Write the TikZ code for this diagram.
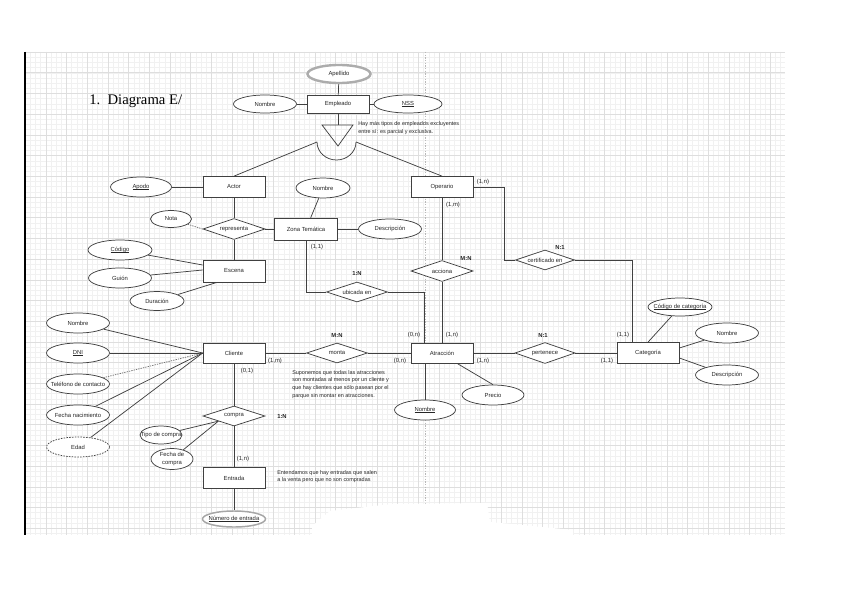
\documentclass[tikz,border=0pt]{standalone}
\usepackage{fontspec}
\setmainfont{Liberation Serif}
\newfontfamily\hv{Liberation Sans}
\usetikzlibrary{shapes.geometric,calc}
\newcommand\ulx[1]{\setbox0=\hbox{#1}\leavevmode\rlap{\vrule width\wd0 height -0.55pt depth 0.85pt}\box0}
\begin{document}
\begin{tikzpicture}[x=0.75pt,y=-0.75pt,
  every node/.style={font=\hv\fontsize{4.4}{5.4}\selectfont, text=black!85},
  ln/.style={draw=black!75, line width=0.55pt},
  ent/.style={rectangle, draw=black!75, line width=0.55pt, fill=white, minimum width=46.5pt, minimum height=15.75pt, inner sep=0pt},
  rel/.style={diamond, aspect=3, draw=black!75, line width=0.55pt, fill=white, minimum width=46.5pt, minimum height=15.75pt, inner sep=0pt},
  attr/.style={ellipse, draw=black!75, line width=0.55pt, fill=white, minimum width=47.25pt, minimum height=15pt, inner sep=0pt},
  card/.style={inner sep=0pt},
  bcard/.style={inner sep=0pt, font=\hv\bfseries\fontsize{4.4}{5.4}\selectfont},
  note/.style={align=left, anchor=north west, inner sep=0pt, font=\hv\fontsize{4.1}{5.8}\selectfont},
  gminor/.style={draw=gray!11, line width=0.2pt},
  gmajor/.style={draw=gray!26, line width=0.3pt},
]
\useasboundingbox (0,0) rectangle (848,599);
\fill[white] (0,0) rectangle (848,599);
% graph paper
\foreach \i in {0,...,146} {\draw[gminor] ({25+\i*5.175},52) -- ({25+\i*5.175},535);}
\foreach \j in {0,...,93} {\draw[gminor] (25,{52+\j*5.175}) -- (785,{52+\j*5.175});}
\foreach \i in {0,...,36} {\draw[gmajor] ({25+\i*20.7},52) -- ({25+\i*20.7},535);}
\foreach \j in {0,...,23} {\draw[gmajor] (25,{52+\j*20.7}) -- (785,{52+\j*20.7});}
\draw[gray!55, line width=0.5pt, dash pattern=on 1pt off 1pt] (425,52) -- (425,507);
% erased patch
\fill[white] (312,536) -- (312,526) -- (330,511) -- (392,504) -- (487,503) -- (490,522) -- (573,530) -- (573,536) -- cycle;
% left rule
\draw[black, line width=1.5pt] (25,52) -- (25,535);

% title
\node[anchor=west, inner sep=0pt, font=\rmfamily\fontsize{11}{13}\selectfont, text=black] (title) at (89,101) {1.\ \ Diagrama E/};

% ---------- nodes ----------
\node[ent, minimum height=13.5pt] (emp) at (338,104) {Empleado};
\node[attr, minimum height=13.5pt, line width=1.8pt, draw=gray!65, label=center:{Apellido}] (ape) at (339,74) {};
\node[attr, minimum height=13.5pt, label=center:{Nombre}] (nomE) at (265,104) {};
\node[attr, minimum width=51pt, minimum height=13.5pt, label=center:{\ulx{NSS}}] (nss) at (408,104) {};

\node[ent] (actor) at (234,187) {Actor};
\node[ent] (oper) at (442,187) {Operario};
\node[attr, minimum width=45.75pt, label=center:{\ulx{Apodo}}] (apodo) at (141,187) {};
\node[attr, minimum width=40.5pt, label=center:{Nombre}] (nomZ) at (323,188) {};
\node[attr, minimum width=30.75pt, minimum height=12.75pt, label=center:{Nota}] (nota) at (171,219) {};
\node[rel] (repr) at (234,229) {representa};
\node[ent, minimum width=47.25pt, minimum height=16.5pt] (zona) at (306,229) {Zona Temática};
\node[attr, label=center:{Descripción}] (descZ) at (390,229) {};
\node[attr, minimum width=48pt, label=center:{\ulx{Código}}] (cod) at (120,250) {};
\node[ent, minimum height=16.5pt] (escena) at (234,271) {Escena};
\node[attr, label=center:{Guión}] (guion) at (120,278) {};
\node[attr, minimum width=40.5pt, minimum height=14.25pt, label=center:{Duración}] (dur) at (157,301) {};
\node[rel, minimum width=45.75pt, minimum height=15pt] (ubic) at (357,292) {ubicada en};
\node[rel] (acc) at (442,271) {acciona};
\node[rel, minimum width=44.25pt, minimum height=15pt] (cert) at (545,260) {certificado en};

\node[ent, minimum height=15pt] (atr) at (442,353) {Atracción};
\node[attr, minimum width=45.75pt, label=center:{\ulx{Nombre}}] (nomA) at (425,410) {};
\node[attr, minimum width=46.5pt, label=center:{Precio}] (precio) at (493,395) {};
\node[rel, minimum width=45pt] (pert) at (545,353) {pertenece};
\node[ent] (cat) at (648,353) {Categoría};
\node[attr, minimum width=48pt, minimum height=13.5pt, label=center:{\ulx{Código de categoría}}] (codcat) at (680,307) {};
\node[attr, label=center:{Nombre}] (nomCat) at (727,333) {};
\node[attr, label=center:{Descripción}] (descCat) at (727,375) {};

\node[ent, minimum height=15pt] (cli) at (234,353) {Cliente};
\node[attr, label=center:{Nombre}] (nomC) at (78,323) {};
\node[attr, label=center:{\ulx{DNI}}] (dni) at (78,353) {};
\node[attr, label=center:{Teléfono de contacto}] (tel) at (78,384) {};
\node[attr, label=center:{Fecha nacimiento}] (fnac) at (78,415) {};
\node[attr, dash pattern=on 1.2pt off 0.9pt, label=center:{Edad}] (edad) at (78,447) {};
\node[rel, minimum width=45.75pt, minimum height=15pt] (monta) at (337,353) {monta};
\node[rel, minimum height=15pt] (compra) at (234,416) {compra};
\node[attr, minimum width=31.5pt, minimum height=13.5pt, label=center:{Tipo de compra}] (tipo) at (161,435) {};
\node[attr, minimum width=31.5pt, minimum height=15.75pt, label={[align=center]center:{Fecha de\\compra}}] (fcom) at (172,459) {};
\node[ent] (entrada) at (234,478) {Entrada};
\node[attr, minimum height=12pt, line width=1.1pt, draw=gray!70, label=center:{\ulx{Número de entrada}}] (numE) at (234,519) {};

% ---------- ISA ----------
\coordinate (isaT) at (338,125);
\coordinate (isaL) at (317,142);
\coordinate (isaR) at (356,142);
\draw[ln] (emp.south) -- (isaT);
\draw[ln] (322,125) -- (353,125) -- (338,146) -- cycle;
\draw[ln] (isaL) arc[start angle=180, end angle=0, x radius=19.5, y radius=18];
\draw[ln] (isaL) -- (actor.north);
\draw[ln] (isaR) -- (oper.north);

% ---------- connectors ----------
\draw[ln] (ape) -- (emp);
\draw[ln] (nomE) -- (emp);
\draw[ln] (emp) -- (nss);
\draw[ln] (apodo) -- (actor);
\draw[ln] (actor) -- (repr);
\draw[ln, draw=black!55, dash pattern=on 1pt off 0.8pt] (nota) -- (repr.west);
\draw[ln] (repr) -- (zona);
\draw[ln] (repr) -- (escena);
\draw[ln] (nomZ) -- (zona);
\draw[ln] (zona) -- (descZ);
\draw[ln] (cod) -- ([yshift=4.5pt]escena.west);
\draw[ln] (guion) -- ([yshift=0.75pt]escena.west);
\draw[ln] (dur) -- ([xshift=-12.75pt]escena.south);
\draw[ln] (zona.south) |- (ubic.west);
\draw[ln] (ubic.east) -| ([xshift=10.5pt]atr.north west);
\draw[ln] (oper) -- (acc);
\draw[ln] (acc) -- (atr);
\draw[ln] (oper.east) -- ++(31,0) |- (cert.west);
\draw[ln] (cert.east) -| ([xshift=12pt]cat.north west);
\draw[ln] (atr) -- (pert);
\draw[ln] (pert) -- (cat);
\draw[ln] (nomA.north) -- (nomA.north |- atr.south);
\draw[ln] ([xshift=11.25pt]atr.south) -- (precio.north);
\draw[ln] (codcat) -- (cat.north);
\draw[ln] (nomCat) -- ([yshift=3.75pt]cat.east);
\draw[ln] (descCat) -- ([yshift=-3.75pt]cat.east);
\draw[ln] (cli) -- (monta);
\draw[ln] (monta) -- (atr);
\draw[ln] (cli) -- (compra);
\draw[ln] (compra) -- (entrada);
\draw[ln] (entrada) -- (numE);
\draw[ln] (nomC) -- (cli.west);
\draw[ln] (dni) -- (cli.west);
\draw[ln, draw=black!55, dash pattern=on 1pt off 0.8pt] (tel) -- (cli.west);
\draw[ln] (fnac) -- (cli.west);
\draw[ln] (edad) -- (cli.west);
\coordinate (cbl) at ($(compra.west)!0.5!(compra.south)$);
\draw[ln] (tipo) -- (cbl);
\draw[ln] (fcom) -- (cbl);

% ---------- cardinalities ----------
\node[card] (c1) at (483,182) {(1,n)};
\node[card] (c2) at (453,205) {(1,m)};
\node[card] (c3) at (317,247) {(1,1)};
\node[bcard] (c4) at (357,273) {1:N};
\node[bcard] (c5) at (466,258) {M:N};
\node[bcard] (c6) at (560,247) {N:1};
\node[card] (c7) at (414,335) {(0,n)};
\node[card] (c8) at (452,335) {(1,n)};
\node[card] (c9) at (400,361) {(0,n)};
\node[card] (c10) at (483,361) {(1,n)};
\node[bcard] (c11) at (543,335) {N:1};
\node[card] (c12) at (623,335) {(1,1)};
\node[card] (c13) at (607,361) {(1,1)};
\node[bcard] (c14) at (337,335) {M:N};
\node[card] (c15) at (275,361) {(1,m)};
\node[card] (c16) at (247,371) {(0,1)};
\node[bcard] (c17) at (282,416) {1:N};
\node[card] (c18) at (243,459) {(1,n)};

% ---------- notes ----------
\node[note] (n1) at (358,121) {Hay más tipos de empleados excluyentes\\entre sí: es parcial y exclusiva.};
\node[note] (n2) at (292,370) {Suponemos que todas las atracciones\\son montadas al menos por un cliente y\\que hay clientes que sólo pasean por el\\parque sin montar en atracciones.};
\node[note] (n3) at (277,470) {Entendamos que hay entradas que salen\\a la venta pero que no son compradas};
\end{tikzpicture}
\end{document}
